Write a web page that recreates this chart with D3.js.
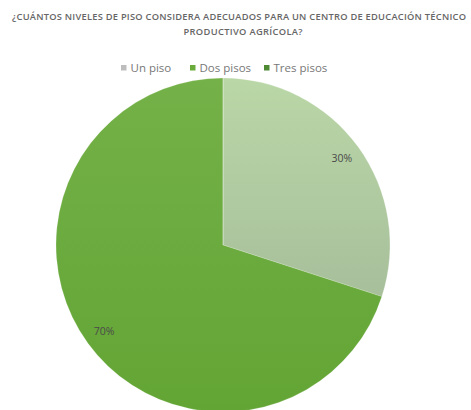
<!DOCTYPE html>
<html><head><meta charset="utf-8">
<script src="https://cdn.jsdelivr.net/npm/d3@7"></script>
<style>body{margin:0;background:#fff}svg{display:block}</style>
</head><body>
<svg id="c" width="471" height="410"></svg>
<script>
const categories = ["Un piso", "Dos pisos", "Tres pisos"];
const values = [30, 70, 0];
const labels = ["30%", "70%", "0%"];
const colors = ["#b3d0a0", "#6aab3c", "#4f8a35"];
const legendColors = ["#bdbdbd", "#6aab3c", "#4f8a35"];
const titleLines = ["¿CUÁNTOS NIVELES DE PISO CONSIDERA ADECUADOS PARA  UN CENTRO DE EDUCACIÓN TÉCNICO", "PRODUCTIVO AGRÍCOLA?"];

const svg = d3.select("#c");
const font = "'Open Sans', 'Liberation Sans', sans-serif";

// title
const titleLen = [454, 119];
const titleX = [239, 243];
svg.append("g").selectAll("text").data(titleLines).join("text")
  .attr("x", (d, i) => titleX[i]).attr("y", (d, i) => 20 + i * 15)
  .attr("text-anchor", "middle")
  .attr("textLength", (d, i) => titleLen[i]).attr("lengthAdjust", "spacing")
  .attr("font-family", font).attr("font-size", 9.3).attr("font-weight", 600)
  .attr("fill", "#666").text(d => d);

// legend
const legX = [121, 190, 264];
const leg = svg.append("g").selectAll("g").data(categories).join("g")
  .attr("transform", (d, i) => `translate(${legX[i]},68)`);
leg.append("rect").attr("x", 0).attr("y", -3).attr("width", 5.5).attr("height", 5.5)
  .attr("fill", (d, i) => legendColors[i]);
leg.append("text").attr("x", 9.5).attr("y", 0).attr("dy", "0.35em")
  .attr("font-family", font).attr("font-size", 11.5).attr("fill", "#777").text(d => d);

// gradients
const defs = svg.append("defs");
const grad0 = defs.append("linearGradient").attr("id", "g0").attr("x1", 0).attr("y1", 0).attr("x2", 0).attr("y2", 1);
grad0.append("stop").attr("offset", "0%").attr("stop-color", "#bad7a7");
grad0.append("stop").attr("offset", "100%").attr("stop-color", "#a7bf9b");
const grad1 = defs.append("linearGradient").attr("id", "g1").attr("x1", 0).attr("y1", 0).attr("x2", 0).attr("y2", 1);
grad1.append("stop").attr("offset", "0%").attr("stop-color", "#74b148");
grad1.append("stop").attr("offset", "100%").attr("stop-color", "#63a535");
const fills = ["url(#g0)", "url(#g1)", colors[2]];

const cx = 223, cy = 245, R = 167;
const pie = d3.pie().sort(null).value(d => d);
const arcs = pie(values);
const arc = d3.arc().innerRadius(0).outerRadius(R);
const labelArc = d3.arc().innerRadius(R * 0.88).outerRadius(R * 0.88);

const g = svg.append("g").attr("transform", `translate(${cx},${cy})`);
g.selectAll("path").data(arcs).join("path")
  .attr("d", arc).attr("fill", (d, i) => fills[i])
  .attr("stroke", "rgba(255,255,255,0.3)").attr("stroke-width", 0.6);

g.selectAll("text").data(arcs.filter(d => d.data > 0)).join("text")
  .attr("transform", d => `translate(${labelArc.centroid(d)})`)
  .attr("text-anchor", "middle").attr("dy", "0.35em")
  .attr("font-family", font).attr("font-size", 10.5).attr("fill", "#4a4a4a")
  .text(d => labels[d.index]);
</script>
</body></html>
